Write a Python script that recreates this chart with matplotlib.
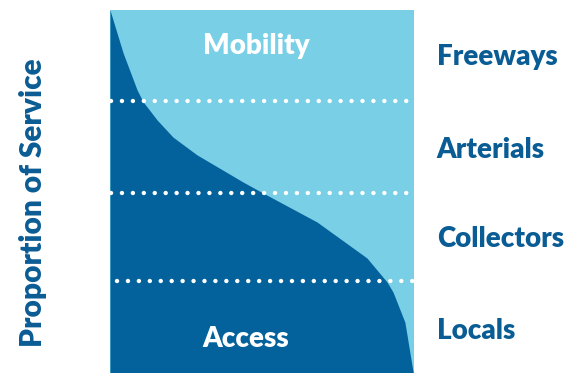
import matplotlib.pyplot as plt
import numpy as np

# share of travel going to access (x, %) vs proportion of service (y, %)
access_x = [0, 4.3, 8.9, 10.9, 15.5, 20.7, 28.6, 43.8, 50.3, 68.1, 84.5, 91.1, 93.1, 97.0, 99.7, 100]
service_y = [100, 88.2, 78.0, 74.7, 69.7, 65.0, 60.1, 52.6, 49.6, 41.6, 31.7, 25.1, 22.3, 14.0, 0.3, 0]

classes = ['Freeways', 'Arterials', 'Collectors', 'Locals']
class_y = [87.0, 61.5, 37, 11.5]
dividers = [74.9, 49.6, 25.3]
divider_start = [0.3, 0.3, 2.3]

light = '#79CFE6'
dark = '#03629C'
txt = '#0A5C94'

plt.rcParams['font.family'] = ['Lato', 'DejaVu Sans']

fig = plt.figure(figsize=(5.79, 3.73), dpi=100)
ax = fig.add_axes([110/579, 0, 304/579, 363/373])
ax.set_xlim(0, 100)
ax.set_ylim(0, 100)
ax.axis('off')
ax.add_patch(plt.Rectangle((0, 0), 100, 100, color=light, zorder=-1))
ax.fill_between(access_x, 0, service_y, color=dark, lw=0)

for y, x0 in zip(dividers, divider_start):
  ax.plot([x0, 100], [y, y], color='white', lw=3.2,
          linestyle=(0, (0.01, 2.45)), dash_capstyle='round', zorder=3)

ax.text(48, 90.0, 'Mobility', color='white', fontsize=20, fontweight='heavy',
        ha='center', va='center')
ax.text(44.5, 9.5, 'Access', color='white', fontsize=20, fontweight='heavy',
        ha='center', va='center')

for name, y in zip(classes, class_y):
  ax.text(107.5, y, name, color=txt, fontsize=20, fontweight='heavy',
          ha='left', va='center', clip_on=False)

fig.text(33/579, 1 - 203/373, 'Proportion of Service', color=txt, fontsize=21.5,
         fontweight='heavy', rotation=90, ha='center', va='center')

fig.savefig('out.png', dpi=100)
